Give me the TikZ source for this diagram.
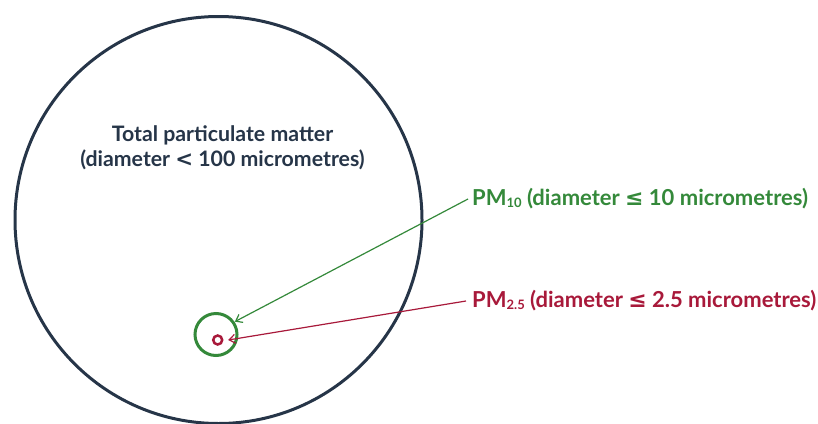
\documentclass[tikz,border=0pt]{standalone}
\usepackage{fontspec}
\setmainfont{Lato}
\newfontfamily\symfont{DejaVu Sans}
\usetikzlibrary{arrows.meta}
\definecolor{navy}{HTML}{263548}
\definecolor{pmgreen}{HTML}{34893A}
\definecolor{pmred}{HTML}{A8193A}
\tikzset{
  ring/.style={circle, draw, inner sep=0pt, outer sep=0pt},
  lbl/.style={font=\bfseries\fontsize{22}{24}\selectfont, inner sep=0pt, anchor=west},
  conn/.style={line width=1.2pt, -{Straight Barb[length=6pt,width=9pt]}},
}
\newcommand{\subsc}[1]{\raisebox{-0.1ex}{\fontsize{13}{14}\selectfont #1}}
\begin{document}
\begin{tikzpicture}[x=1pt,y=-1pt]
\useasboundingbox (0,0) rectangle (818,423);
\begin{scope}
\clip (0,0) rectangle (818,423);
\node[ring, draw=navy, line width=3pt, minimum size=407pt] (tpm) at (218.5,220) {};
\end{scope}
\node[align=center, text=navy, font=\bfseries\fontsize{21.3}{25}\selectfont] (title) at (222.5,148)
  {Total particulate matter\\(diameter {\symfont<} 100 micrometres)};
\node[ring, draw=pmgreen, line width=3pt, minimum size=42pt] (pm10) at (216,334.5) {};
\node[ring, draw=pmred, line width=2.5pt, minimum size=9pt] (pm25) at (217.7,340) {};
\node[lbl, text=pmgreen] (l10) at (472,199) {PM\subsc{10} (diameter {\symfont ≤} 10 micrometres)};
\node[lbl, text=pmred] (l25) at (472,301) {PM\subsc{2.5} (diameter {\symfont ≤} 2.5 micrometres)};
\draw[conn, pmgreen] ([xshift=-4pt]l10.west) -- ([shift={(4pt,-2pt)}]pm10.north east);
\draw[conn, pmred] ([xshift=-6pt]l25.west) -- ([xshift=6pt]pm25.east);
\end{tikzpicture}
\end{document}
